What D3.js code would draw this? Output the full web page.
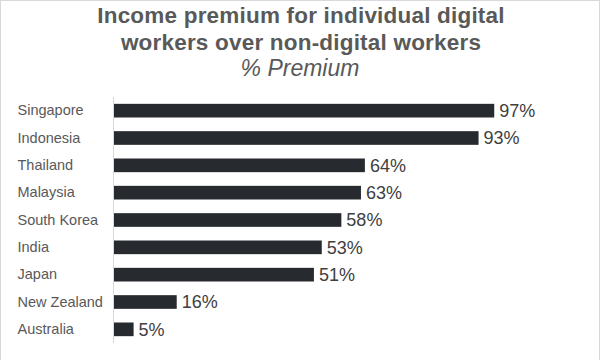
<!DOCTYPE html>
<html><head><meta charset="utf-8">
<script src="https://cdn.jsdelivr.net/npm/d3@7"></script>
<style>body{margin:0;background:#fff}svg{display:block;font-family:"Liberation Sans",Arial,sans-serif}</style>
</head><body><svg id="c" width="600" height="360"></svg>
<script>
const categories = ["Singapore","Indonesia","Thailand","Malaysia","South Korea","India","Japan","New Zealand","Australia"];
const values = [97,93,64,63,58,53,51,16,5];
const valueLabels = ["97%","93%","64%","63%","58%","53%","51%","16%","5%"];
const titleLines = ["Income premium for individual digital","workers over non-digital workers"];
const subtitle = "% Premium";

const svg = d3.select("#c");
svg.append("rect").attr("x",0.5).attr("y",0.5).attr("width",599).attr("height",370)
  .attr("fill","none").attr("stroke","#d9d9d9");

const x = d3.scaleLinear().domain([0,100]).range([114,506]);
const y = d3.scaleBand().domain(categories).range([97,343]).paddingInner(0.5).paddingOuter(0.25);

svg.selectAll("text.title").data(titleLines).join("text").attr("class","title")
  .attr("x",301).attr("y",(d,i)=>22.5+i*27).attr("text-anchor","middle")
  .attr("font-size",22.5).attr("font-weight","bold").attr("letter-spacing",0.2)
  .attr("fill","#595959").text(d=>d);
svg.append("text").attr("x",300).attr("y",76).attr("text-anchor","middle")
  .attr("font-size",23).attr("font-style","italic").attr("fill","#595959").text(subtitle);

svg.selectAll("rect.bar").data(values).join("rect").attr("class","bar")
  .attr("x",x(0)).attr("y",(d,i)=>y(categories[i]))
  .attr("width",d=>x(d)-x(0)).attr("height",y.bandwidth())
  .attr("fill","#272a2e");

const axis = svg.append("g").attr("transform",`translate(${x(0)-0.5},0)`)
  .call(d3.axisLeft(y).tickSize(0).tickPadding(96));
axis.select(".domain").attr("stroke","#d9d9d9").attr("d",`M0,97V343`);
axis.selectAll("text").attr("text-anchor","start").attr("font-size",14.5)
  .attr("fill","#595959").attr("font-family","Liberation Sans, Arial, sans-serif");

svg.selectAll("text.val").data(values).join("text").attr("class","val")
  .attr("x",d=>x(d)+5).attr("y",(d,i)=>y(categories[i])+y.bandwidth()/2)
  .attr("dy","0.36em").attr("font-size",18).attr("fill","#404040")
  .text((d,i)=>valueLabels[i]);
</script></body></html>
